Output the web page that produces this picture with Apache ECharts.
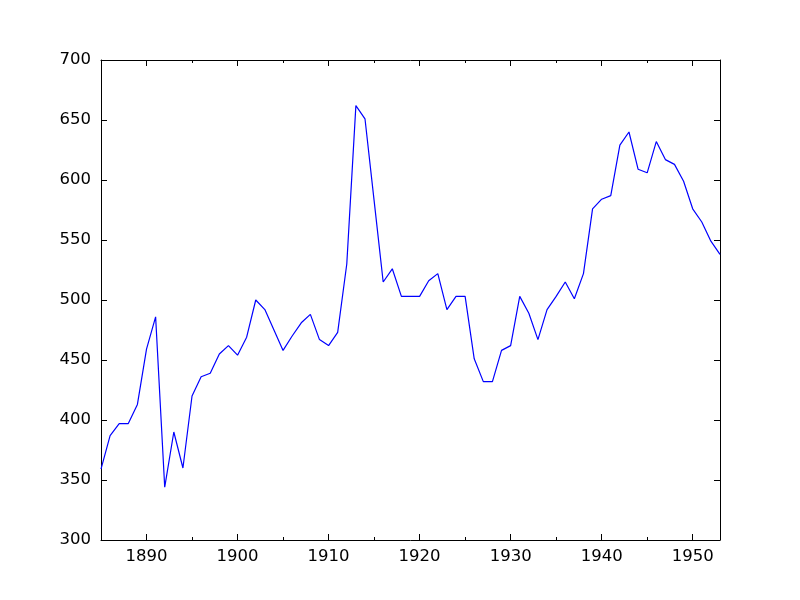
<!DOCTYPE html>
<html>
<head>
<meta charset="utf-8">
<script src="https://cdn.jsdelivr.net/npm/echarts@6/dist/echarts.min.js"></script>
<style>
	html, body { margin: 0; padding: 0; background: #fff; }
	#chart { width: 800px; height: 600px; }
</style>
</head>
<body>
<div id="chart"></div>
<script>
// years 1885 -> 1953
const years = [
	1885, 1886, 1887, 1888, 1889, 1890, 1891, 1892, 1893, 1894,
	1895, 1896, 1897, 1898, 1899, 1900, 1901, 1902, 1903, 1904,
	1905, 1906, 1907, 1908, 1909, 1910, 1911, 1912, 1913, 1914,
	1915, 1916, 1917, 1918, 1919, 1920, 1921, 1922, 1923, 1924,
	1925, 1926, 1927, 1928, 1929, 1930, 1931, 1932, 1933, 1934,
	1935, 1936, 1937, 1938, 1939, 1940, 1941, 1942, 1943, 1944,
	1945, 1946, 1947, 1948, 1949, 1950, 1951, 1952, 1953,
];
const values = [
	359, 387, 397, 397, 413, 459, 486, 344, 390, 360,
	420, 436, 439, 455, 462, 454, 469, 500, 492, 475,
	458, 470, 481, 488, 467, 462, 473, 530, 662, 651,
	583, 515, 526, 503, 503, 503, 516, 522, 492, 503,
	503, 451, 432, 432, 458, 462, 503, 489, 467, 492,
	503, 515, 501, 522, 576, 584, 587, 629, 640, 609,
	606, 632, 617, 613, 599, 576, 565, 549, 538,
];
const xMajor = [1890, 1900, 1910, 1920, 1930, 1940, 1950];
const xMinor = [1895, 1905, 1915, 1925, 1935, 1945];

const axisColor = "#000";
const labelFont = { color: "#000", fontSize: 16.5, fontFamily: "DejaVu Sans" };

function xAx(pos, ticks, len, withLine, withLabel) {
	return {
		type: "value",
		position: pos,
		min: 1885,
		max: 1953,
		axisLine: { show: withLine, lineStyle: { color: axisColor, width: 1 } },
		axisTick: { show: true, inside: true, length: len, customValues: ticks, lineStyle: { color: axisColor } },
		axisLabel: Object.assign({ show: withLabel, margin: 8, customValues: ticks, formatter: (v) => String(v) }, labelFont),
		splitLine: { show: false },
	};
}

function yAx(pos, withLabel) {
	return {
		type: "value",
		position: pos,
		min: 300,
		max: 700,
		interval: 50,
		axisLine: { show: true, lineStyle: { color: axisColor, width: 1 } },
		axisTick: { show: true, inside: true, length: 6, lineStyle: { color: axisColor } },
		axisLabel: Object.assign({ show: withLabel, margin: 10, formatter: (v) => String(v) }, labelFont),
		splitLine: { show: false },
	};
}

const chart = echarts.init(document.getElementById("chart"));
chart.setOption({
	animation: false,
	backgroundColor: "#fff",
	grid: { left: 101, right: 80, top: 60, bottom: 60, containLabel: false },
	xAxis: [
		xAx("bottom", xMajor, 6, true, true),
		xAx("bottom", xMinor, 3, false, false),
		xAx("top", xMajor, 6, true, false),
		xAx("top", xMinor, 3, false, false),
	],
	yAxis: [yAx("left", true), yAx("right", false)],
	series: [
		{
			type: "line",
			xAxisIndex: 0,
			yAxisIndex: 0,
			data: years.map((y, i) => [y, values[i]]),
			showSymbol: false,
			symbol: "none",
			lineStyle: { color: "#0000ff", width: 1.2 },
		},
	],
});
</script>
</body>
</html>
